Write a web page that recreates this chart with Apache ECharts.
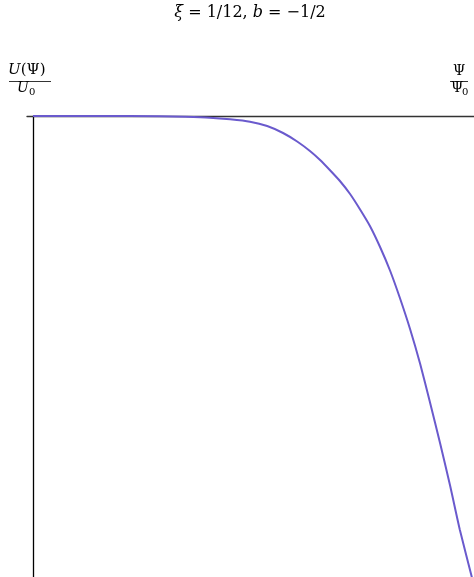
<!DOCTYPE html>
<html>
<head>
<meta charset="utf-8">
<script src="https://cdn.jsdelivr.net/npm/echarts@6/dist/echarts.min.js"></script>
<style>html,body{margin:0;padding:0;background:#fff}#c{width:474px;height:577px}</style>
</head>
<body>
<div id="c"></div>
<script>
// Ψ/Ψ0 (normalized) and U(Ψ)/U0 (normalized)
const psi = [0, 0.152, 0.288, 0.345, 0.401, 0.447, 0.492, 0.531, 0.567, 0.599, 0.628, 0.651, 0.673, 0.696, 0.719, 0.741, 0.764, 0.787, 0.810, 0.832, 0.855, 0.878, 0.900, 0.923, 0.946, 0.968, 0.995, 1.0];
const U   = [0, 0, -0.0004, -0.0017, -0.0037, -0.0072, -0.0124, -0.0217, -0.0369, -0.0553, -0.0759, -0.0954, -0.1171, -0.1410, -0.1692, -0.2017, -0.2386, -0.2842, -0.3362, -0.3948, -0.4620, -0.5380, -0.6204, -0.7093, -0.8026, -0.8980, -1.0, -1.02];
const titleText = ['ξ', ' = 1/12, ', 'b', ' = −1/2'];

const serif = '"DejaVu Serif", "Liberation Serif", serif';
const it = { fontStyle: 'italic', fontFamily: serif, fontSize: 15, fill: '#000', color: '#000' };
const chart = echarts.init(document.getElementById('c'));
chart.setOption({
  animation: false,
  backgroundColor: '#fff',
  grid: { left: 27, right: 0, top: 116, bottom: 0, containLabel: false },
  xAxis: {
    type: 'value', position: 'top', min: -0.0136, max: 1,
    axisLine: { show: true, onZero: true, lineStyle: { color: '#333', width: 1.3 } },
    axisTick: { show: false }, axisLabel: { show: false }, splitLine: { show: false }
  },
  yAxis: {
    type: 'value', min: -1, max: 0,
    axisLine: { show: true, onZero: true, lineStyle: { color: '#000', width: 1.3 } },
    axisTick: { show: false }, axisLabel: { show: false }, splitLine: { show: false }
  },
  series: [{
    type: 'line', z: 5, clip: true,
    data: psi.map((x, i) => [x, U[i]]),
    smooth: 0.2,
    showSymbol: false,
    lineStyle: { color: '#6a5acd', width: 2 }
  }],
  graphic: [
    { type: 'text', x: 250, y: 5, style: {
        text: '{i|' + titleText[0] + '}' + titleText[1] + '{i|' + titleText[2] + '}' + titleText[3],
        font: '16px ' + serif, fill: '#000', align: 'center',
        rich: { i: Object.assign({}, it, { fontSize: 16 }) } } },
    { type: 'text', x: 8, y: 63, style: { text: '{i|U}(Ψ)', font: '15px ' + serif, fill: '#000', rich: { i: it } } },
    { type: 'line', shape: { x1: 9, y1: 81.5, x2: 51, y2: 81.5 }, style: { stroke: '#000', lineWidth: 0.8 } },
    { type: 'text', x: 17, y: 81, style: { text: '{i|U}', font: '14px ' + serif, fill: '#000', rich: { i: Object.assign({}, it, { fontSize: 14 }) } } },
    { type: 'text', x: 29, y: 87, style: { text: '0', font: '10px ' + serif, fill: '#000' } },
    { type: 'text', x: 453, y: 64, style: { text: 'Ψ', font: '14px ' + serif, fill: '#000' } },
    { type: 'line', shape: { x1: 450, y1: 81.5, x2: 468, y2: 81.5 }, style: { stroke: '#000', lineWidth: 0.8 } },
    { type: 'text', x: 451, y: 81, style: { text: 'Ψ', font: '14px ' + serif, fill: '#000' } },
    { type: 'text', x: 462, y: 87, style: { text: '0', font: '10px ' + serif, fill: '#000' } }
  ]
});
</script>
</body>
</html>
